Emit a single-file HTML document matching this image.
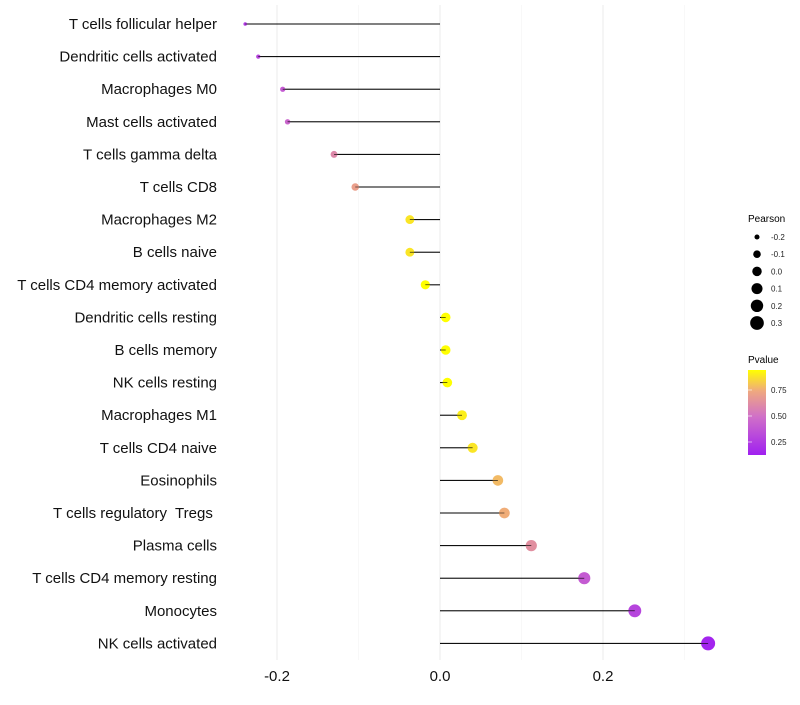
<!DOCTYPE html>
<html><head><meta charset="utf-8"><style>
body{margin:0;background:#fff;font-family:"Liberation Sans",sans-serif}
text{white-space:pre}
</style></head><body>
<svg id="c" width="800" height="700" xmlns="http://www.w3.org/2000/svg" font-family="Liberation Sans, sans-serif">
<defs><linearGradient id="pg" x1="0" y1="1" x2="0" y2="0">
<stop offset="0" stop-color="#A020F0"/><stop offset="0.45" stop-color="#D070C8"/><stop offset="0.75" stop-color="#EFA880"/><stop offset="1" stop-color="#FFFF00"/></linearGradient></defs>
<g id="grid"></g><g id="marks"></g><g id="axes"></g>
<g id="legS">
<text x="748" y="222" font-size="10" fill="#000">Pearson</text></g>
<g id="legP">
<text x="748" y="363" font-size="10" fill="#000">Pvalue</text>
<rect x="748" y="370" width="18" height="85" fill="url(#pg)"/>
</g>
</svg>
<script>
const categories=["T cells follicular helper","Dendritic cells activated","Macrophages M0","Mast cells activated","T cells gamma delta","T cells CD8","Macrophages M2","B cells naive","T cells CD4 memory activated","Dendritic cells resting","B cells memory","NK cells resting","Macrophages M1","T cells CD4 naive","Eosinophils","T cells regulatory  Tregs ","Plasma cells","T cells CD4 memory resting","Monocytes","NK cells activated"];
const pearson=[-0.239,-0.223,-0.193,-0.187,-0.130,-0.104,-0.037,-0.037,-0.018,0.007,0.007,0.009,0.027,0.040,0.071,0.079,0.112,0.177,0.239,0.329];
const pvalue=[0.25,0.3,0.4,0.45,0.6,0.7,0.88,0.88,0.95,0.97,0.97,0.97,0.9,0.88,0.78,0.75,0.63,0.4,0.3,0.15];
const xTicks=[-0.2,0.0,0.2];
const xTickLabels=["-0.2","0.0","0.2"];
const sizeLegend=[-0.2,-0.1,0.0,0.1,0.2,0.3];
const pLegend=[0.25,0.50,0.75];
const NS="http://www.w3.org/2000/svg";
const X=v=>440+v*815;
const Y=i=>24+i*32.6;
const R=v=>Math.sqrt(Math.max(1.5,3.24+80.6*(v+0.239)));
const PY=p=>442-(p-0.25)*104;
function col(p){const t=Math.max(0,Math.min(1,(p-0.13)/(0.94-0.13)));
const st=[[0,[160,32,240]],[0.45,[208,112,200]],[0.75,[239,168,128]],[1,[255,255,0]]];
for(let k=1;k<st.length;k++){if(t<=st[k][0]){const a=st[k-1],b=st[k],f=(t-a[0])/(b[0]-a[0]);
return "rgb("+a[1].map((c,j)=>Math.round(c+(b[1][j]-c)*f)).join(",")+")";}}return "rgb(255,255,0)";}
function mk(tag,at,parent){const e=document.createElementNS(NS,tag);for(const k in at)e.setAttribute(k,at[k]);parent.appendChild(e);return e;}
const grid=document.getElementById('grid'),marks=document.getElementById('marks'),axes=document.getElementById('axes');
[-0.1,0.1,0.3].forEach(v=>{const l=mk('line',{x1:X(v),x2:X(v),y1:5,y2:660,stroke:'#f4f4f4','stroke-width':0.6},grid);

});
xTicks.forEach((v,i)=>{const l=mk('line',{x1:X(v),x2:X(v),y1:5,y2:660,stroke:'#ebebeb','stroke-width':1},grid);


const t=mk('text',{x:X(v),y:681,'font-size':15,'text-anchor':'middle',fill:'#111'},axes);t.textContent=xTickLabels[i];

});
categories.forEach((c,i)=>{const y=Y(i);
const t=mk('text',{x:217,y:y+5,'font-size':15,'text-anchor':'end',fill:'#111'},axes);t.textContent=c;


const l=mk('line',{x1:X(0),x2:X(pearson[i]),y1:y,y2:y,stroke:'#000','stroke-width':1},marks);


const d=mk('circle',{cx:X(pearson[i]),cy:y,r:R(pearson[i]),fill:col(pvalue[i])},marks);


const l2=mk('line',{x1:X(0),x2:X(pearson[i]),y1:y,y2:y,stroke:'#000','stroke-width':0.6},marks);

});
const legS=document.getElementById('legS');
sizeLegend.forEach((v,i)=>{const y=237+i*17.2;
const d=mk('circle',{cx:757,cy:y,r:R(v),fill:'#000'},legS);


const t=mk('text',{x:771,y:y+3,'font-size':8,fill:'#222'},legS);t.textContent=v.toFixed(1);

});
const legP=document.getElementById('legP');
pLegend.forEach(p=>{const y=PY(p);
const t=mk('text',{x:771,y:y+3,'font-size':8,fill:'#222'},legP);t.textContent=p.toFixed(2);


const k=mk('line',{x1:748,x2:752,y1:y,y2:y,stroke:'#fff','stroke-width':0.6},legP);

});
</script>
</body></html>
